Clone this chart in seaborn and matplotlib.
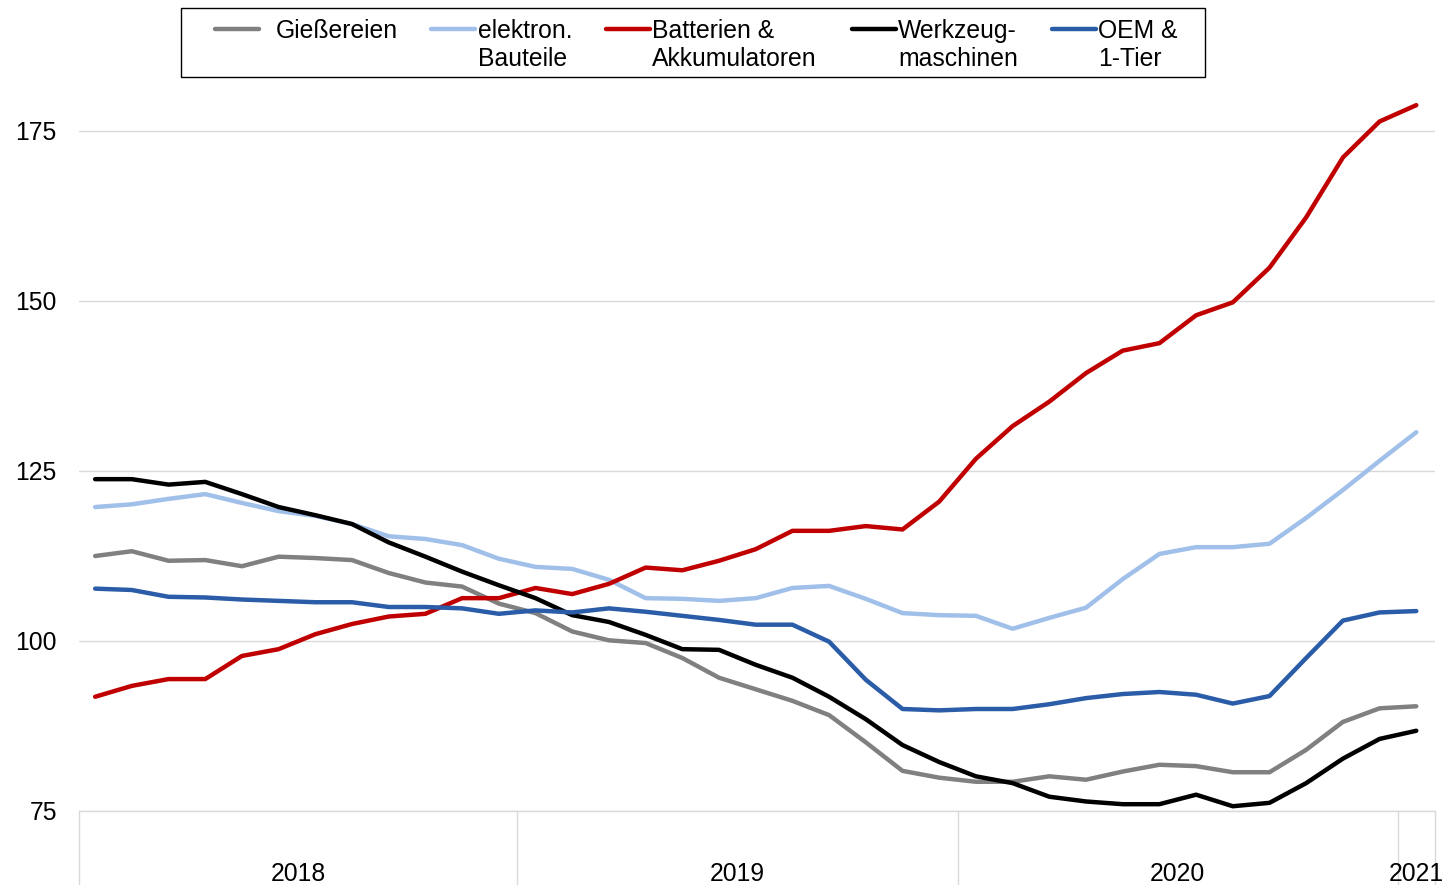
import pandas as pd
import seaborn as sns
import matplotlib.pyplot as plt
from matplotlib.lines import Line2D
from matplotlib.patches import Rectangle

sns.set_style("white")
plt.rcParams['font.family'] = ['Liberation Sans', 'DejaVu Sans']
plt.rcParams['text.color'] = 'black'
plt.rcParams['ytick.color'] = 'black'

# Monatswerte Jan 2018 - Jan 2021
monate = pd.date_range("2018-01-01", "2021-01-01", freq="MS")
jahre = ["2018", "2019", "2020", "2021"]

giessereien = [112.5, 113.2, 111.8, 111.9, 111.0, 112.4, 112.2, 111.9, 110.0, 108.6,
               108.0, 105.5, 104.1, 101.4, 100.1, 99.7, 97.5, 94.6, 92.9, 91.2,
               89.1, 85.1, 80.9, 79.9, 79.3, 79.3, 80.1, 79.6, 80.8, 81.8,
               81.6, 80.7, 80.7, 84.0, 88.1, 90.1, 90.4]
elektron = [119.7, 120.1, 120.9, 121.6, 120.3, 119.1, 118.4, 117.2, 115.4, 115.0,
            114.1, 112.1, 110.9, 110.6, 109.0, 106.3, 106.2, 105.9, 106.3, 107.8,
            108.1, 106.2, 104.1, 103.8, 103.7, 101.8, 103.4, 104.9, 109.1, 112.8,
            113.8, 113.8, 114.3, 118.1, 122.2, 126.5, 130.7]
batterien = [91.8, 93.4, 94.4, 94.4, 97.8, 98.8, 101.0, 102.5, 103.6, 104.0,
             106.3, 106.3, 107.8, 106.9, 108.4, 110.8, 110.4, 111.8, 113.5, 116.2,
             116.2, 116.9, 116.4, 120.5, 126.8, 131.6, 135.2, 139.4, 142.7, 143.8,
             147.9, 149.8, 154.9, 162.3, 171.1, 176.4, 178.8]
werkzeug = [123.8, 123.8, 123.0, 123.4, 121.6, 119.7, 118.5, 117.2, 114.5, 112.4,
            110.2, 108.2, 106.3, 103.8, 102.8, 100.9, 98.8, 98.7, 96.5, 94.6,
            91.8, 88.5, 84.7, 82.2, 80.1, 79.1, 77.1, 76.4, 76.0, 76.0,
            77.4, 75.7, 76.2, 79.1, 82.7, 85.6, 86.8]
oem = [107.7, 107.5, 106.5, 106.4, 106.1, 105.9, 105.7, 105.7, 105.0, 105.0,
       104.8, 104.0, 104.5, 104.2, 104.8, 104.3, 103.7, 103.1, 102.4, 102.4,
       99.9, 94.3, 90.0, 89.8, 90.0, 90.0, 90.7, 91.6, 92.2, 92.5,
       92.1, 90.8, 91.9, 97.5, 103.0, 104.2, 104.4]

reihen = ["Gießereien", "elektron. Bauteile", "Batterien & Akkumulatoren",
          "Werkzeugmaschinen", "OEM & 1-Tier"]
legend_zeilen = [("Gießereien", ""), ("elektron.", "Bauteile"),
                 ("Batterien &", "Akkumulatoren"), ("Werkzeug-", "maschinen"),
                 ("OEM &", "1-Tier")]
farben = ["#808080", "#a0c0ea", "#c00000", "#000000", "#2b5ca8"]

werte = [giessereien, elektron, batterien, werkzeug, oem]
df = pd.concat([pd.DataFrame({"idx": range(len(monate)), "wert": w, "reihe": r})
                for r, w in zip(reihen, werte)])

W, H = 1442, 885
fs = 17.8
fig = plt.figure(figsize=(W / 100, H / 100), dpi=100)
ax = fig.add_axes([79 / W, (H - 811) / H, (1435 - 79) / W, (811 - 97) / H])

sns.lineplot(data=df, x="idx", y="wert", hue="reihe", hue_order=reihen,
             palette=farben, estimator=None, linewidth=3.2, legend=False, ax=ax,
             solid_capstyle="round", solid_joinstyle="round")

xmin, xmax = -0.44, 36.51
ax.set_xlim(xmin, xmax)
ax.set_ylim(75, 180)
ax.set_yticks([75, 100, 125, 150, 175])
ax.set_xticks([])
ax.set_xlabel("")
ax.set_ylabel("")
ax.tick_params(axis="y", length=0, pad=16, labelsize=fs, labelcolor="black")
ax.yaxis.grid(True, color="#d9d9d9", lw=1)
for s in ["top", "right", "left"]:
    ax.spines[s].set_visible(False)
ax.spines["bottom"].set_color("#d9d9d9")
ax.spines["bottom"].set_linewidth(1)

# Jahresachse
starts = [list(monate.year).index(int(j)) - 0.5 for j in jahre]
grenzen = [xmin] + starts[1:] + [xmax]
ax_h = 811 - 97
for xb in grenzen:
    ax.plot([xb, xb], [0, -(H - 811) / ax_h], transform=ax.get_xaxis_transform(),
            color="#d9d9d9", lw=1, clip_on=False)
for j, a, b in zip(jahre, grenzen[:-1], grenzen[1:]):
    ax.text((a + b) / 2, -(881 - 811) / ax_h, j, transform=ax.get_xaxis_transform(),
            ha="center", va="baseline", fontsize=fs, color="black")

# Legende
fig.add_artist(Rectangle((181 / W, 1 - 77 / H), (1205 - 181) / W, 69 / H,
                         transform=fig.transFigure, fill=False,
                         edgecolor="black", lw=1))
handle_x = [(215, 259), (431, 475), (606, 650), (852, 896), (1052, 1096)]
text_x = [276, 478, 652, 898, 1098]
for (x0, x1), tx, farbe, (z1, z2) in zip(handle_x, text_x, farben, legend_zeilen):
    fig.add_artist(Line2D([x0 / W, x1 / W], [1 - 29 / H] * 2, transform=fig.transFigure,
                          color=farbe, lw=3.2, solid_capstyle="round"))
    fig.text(tx / W, 1 - 38 / H, z1, fontsize=fs, va="baseline", ha="left", color="black")
    if z2:
        fig.text(tx / W, 1 - 66 / H, z2, fontsize=fs, va="baseline", ha="left", color="black")

fig.savefig("out.png", dpi=100)
